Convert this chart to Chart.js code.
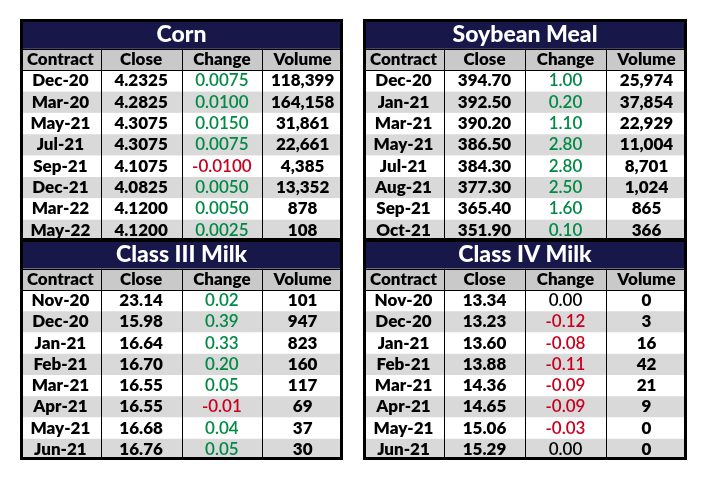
<!DOCTYPE html>
<html>
<head>
<meta charset="utf-8">
<script src="https://cdn.jsdelivr.net/npm/chart.js@4.4.1/dist/chart.umd.min.js"></script>
<style>
    html, body { margin: 0; padding: 0; background: #fff; }
    body { width: 707px; height: 481px; position: relative; overflow: hidden; }
    canvas { position: absolute; }
</style>
</head>
<body>
<canvas id="cornTable" width="323" height="222" style="left:20px;top:19px"></canvas>
<canvas id="soyTable" width="324" height="222" style="left:363px;top:19px"></canvas>
<canvas id="class3Table" width="323" height="221" style="left:20px;top:239px"></canvas>
<canvas id="class4Table" width="324" height="221" style="left:363px;top:239px"></canvas>
<script>
// ─── Data ──────────────────────────────────────────────────────
const columns = ['Contract', 'Close', 'Change', 'Volume'];

const cornContracts = ['Dec-20', 'Mar-20', 'May-21', 'Jul-21', 'Sep-21', 'Dec-21', 'Mar-22', 'May-22'];
const cornClose = [4.2325, 4.2825, 4.3075, 4.3075, 4.1075, 4.0825, 4.1200, 4.1200];
const cornChange = [0.0075, 0.0100, 0.0150, 0.0075, -0.0100, 0.0050, 0.0050, 0.0025];
const cornVolume = [118399, 164158, 31861, 22661, 4385, 13352, 878, 108];

const soyContracts = ['Dec-20', 'Jan-21', 'Mar-21', 'May-21', 'Jul-21', 'Aug-21', 'Sep-21', 'Oct-21'];
const soyClose = [394.70, 392.50, 390.20, 386.50, 384.30, 377.30, 365.40, 351.90];
const soyChange = [1.00, 0.20, 1.10, 2.80, 2.80, 2.50, 1.60, 0.10];
const soyVolume = [25974, 37854, 22929, 11004, 8701, 1024, 865, 366];

const class3Contracts = ['Nov-20', 'Dec-20', 'Jan-21', 'Feb-21', 'Mar-21', 'Apr-21', 'May-21', 'Jun-21'];
const class3Close = [23.14, 15.98, 16.64, 16.70, 16.55, 16.55, 16.68, 16.76];
const class3Change = [0.02, 0.39, 0.33, 0.20, 0.05, -0.01, 0.04, 0.05];
const class3Volume = [101, 947, 823, 160, 117, 69, 37, 30];

const class4Contracts = ['Nov-20', 'Dec-20', 'Jan-21', 'Feb-21', 'Mar-21', 'Apr-21', 'May-21', 'Jun-21'];
const class4Close = [13.34, 13.23, 13.60, 13.88, 14.36, 14.65, 15.06, 15.29];
const class4Change = [0.00, -0.12, -0.08, -0.11, -0.09, -0.09, -0.03, 0.00];
const class4Volume = [0, 3, 16, 42, 21, 9, 0, 0];

// ─── Styles ────────────────────────────────────────────────────
const navy = '#17174a';
const headerGray = '#c9c9c9';
const rowGray = '#d9d9d9';
const green = '#008a45';
const red = '#c8001e';
const fontFamily = 'Lato, "Noto Sans", sans-serif';
const titleHeight = 1.4; // title row is taller than the others (in row units)

// Table plugin: cells placed through the chart's x (column) and y (row) scales
const tablePlugin = {
    id: 'tableCells',
    afterDraw(chart) {
        const t = chart.options.plugins.tableCells;
        const { ctx } = chart;
        const x = chart.scales.x, y = chart.scales.y;
        const nRows = t.contracts.length;
        const rowTop = (i) => y.getPixelForValue(titleHeight + i);
        const left = x.getPixelForValue(0), right = x.getPixelForValue(columns.length);

        ctx.save();
        // title
        ctx.fillStyle = navy;
        ctx.fillRect(left, y.getPixelForValue(0), right - left, rowTop(0) - y.getPixelForValue(0));
        ctx.fillStyle = '#fff';
        ctx.font = '900 23px ' + fontFamily;
        ctx.textAlign = 'center';
        ctx.textBaseline = 'middle';
        ctx.fillText(t.title, x.getPixelForValue(columns.length / 2), (y.getPixelForValue(0) + rowTop(0)) / 2 + 1);

        // header + data row backgrounds
        for (let i = 0; i <= nRows; i++) {
            ctx.fillStyle = i === 0 ? headerGray : (i % 2 === 1 ? '#fff' : rowGray);
            ctx.fillRect(left, rowTop(i), right - left, rowTop(i + 1) - rowTop(i));
        }

        // header text
        ctx.fillStyle = '#000';
        ctx.font = '800 17px ' + fontFamily;
        columns.forEach((c, j) => {
            ctx.fillText(c, x.getPixelForValue(j + 0.5), (rowTop(0) + rowTop(1)) / 2);
        });

        // data cells
        for (let i = 0; i < nRows; i++) {
            const cy = (rowTop(i + 1) + rowTop(i + 2)) / 2;
            const chg = t.changes[i];
            const cells = [
                t.contracts[i],
                t.closes[i].toFixed(t.closeDigits),
                chg.toFixed(t.changeDigits),
                t.volumes[i].toLocaleString('en-US')
            ];
            cells.forEach((txt, j) => {
                if (j === 2) {
                    ctx.font = '600 17px ' + fontFamily;
                    ctx.fillStyle = chg > 0 ? green : (chg < 0 ? red : '#000');
                } else {
                    ctx.font = '800 17px ' + fontFamily;
                    ctx.fillStyle = '#000';
                }
                ctx.fillText(txt, x.getPixelForValue(j + 0.5), cy);
            });
        }

        // grid lines
        ctx.strokeStyle = '#000';
        ctx.lineWidth = 1;
        ctx.beginPath();
        for (let j = 1; j < columns.length; j++) {
            const px = Math.round(x.getPixelForValue(j)) + 0.5;
            ctx.moveTo(px, rowTop(0));
            ctx.lineTo(px, rowTop(nRows + 1));
        }
        [0, 1].forEach(i => {
            const py = Math.round(rowTop(i)) + 0.5;
            ctx.moveTo(left, py);
            ctx.lineTo(right, py);
        });
        ctx.stroke();

        // outer border
        ctx.lineWidth = 3;
        ctx.strokeRect(left + 1.5, y.getPixelForValue(0) + 1.5, right - left - 3, rowTop(nRows + 1) - y.getPixelForValue(0) - 3);
        ctx.restore();
    }
};

function makeTable(id, title, contracts, closes, changes, volumes, closeDigits, changeDigits) {
    return new Chart(document.getElementById(id), {
        type: 'scatter',
        data: { datasets: [] },
        plugins: [tablePlugin],
        options: {
            responsive: false,
            animation: false,
            layout: { padding: 0 },
            plugins: {
                legend: { display: false },
                tooltip: { enabled: false },
                tableCells: { title, contracts, closes, changes, volumes, closeDigits, changeDigits }
            },
            scales: {
                x: { type: 'linear', min: 0, max: columns.length, display: false },
                y: { type: 'linear', min: 0, max: titleHeight + contracts.length + 1, reverse: true, display: false }
            }
        }
    });
}

makeTable('cornTable', 'Corn', cornContracts, cornClose, cornChange, cornVolume, 4, 4);
makeTable('soyTable', 'Soybean Meal', soyContracts, soyClose, soyChange, soyVolume, 2, 2);
makeTable('class3Table', 'Class III Milk', class3Contracts, class3Close, class3Change, class3Volume, 2, 2);
makeTable('class4Table', 'Class IV Milk', class4Contracts, class4Close, class4Change, class4Volume, 2, 2);
</script>
</body>
</html>
